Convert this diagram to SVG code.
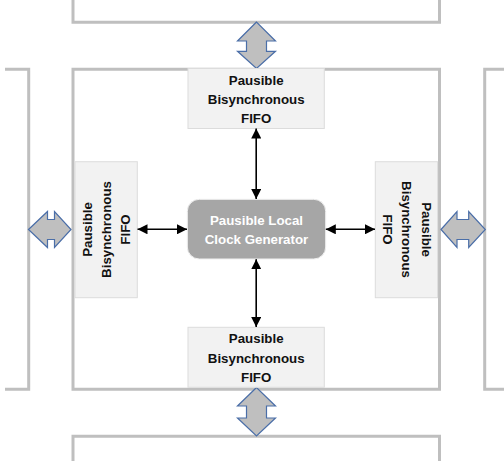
<svg xmlns="http://www.w3.org/2000/svg" width="504" height="461" viewBox="0 0 504 461">
<defs>
<style>
.frame{fill:none;stroke:#bfbfbf;stroke-width:3}
.fifo{fill:#f2f2f2;stroke:#dcdcdc;stroke-width:1}
.lbl{font-family:"Liberation Sans",Arial,sans-serif;font-weight:bold;font-size:13.3px;fill:#111;text-anchor:middle}
.wlbl{font-family:"Liberation Sans",Arial,sans-serif;font-weight:bold;font-size:13.3px;fill:#fff;text-anchor:middle}
.big{fill:#bfbfbf;stroke:#4a6ea8;stroke-width:1.2;stroke-linejoin:miter}
.conn{stroke:#000;stroke-width:1.6;fill:none;marker-start:url(#ah);marker-end:url(#ah)}
</style>
<marker id="ah" viewBox="0 0 10 10" refX="10" refY="5" markerWidth="10" markerHeight="10" markerUnits="userSpaceOnUse" orient="auto-start-reverse">
<path d="M0,0 L10,5 L0,10 z" fill="#000"/>
</marker>
</defs>
<g id="frames">
<path class="frame" d="M73,0 V22.2 H439.5 V0"/>
<path class="frame" d="M73,69.3 H439.5 V389.2 H73 Z"/>
<path class="frame" d="M5,69.3 H28.7 V389.2 H5"/>
<path class="frame" d="M504,69.3 H484.7 V389.2 H504"/>
<path class="frame" d="M73,461 V436.2 H439.5 V461"/>
</g>
<g id="interfaces">
<path class="big" d="M256.5,22 L237.5,41 H246.5 V51.3 H237.5 L256.5,68.5 L275.5,51.3 H266.5 V41 H275.5 Z"/>
<path class="big" d="M256.5,387.5 L237.5,406 H246.5 V418 H237.5 L256.5,436 L275.5,418 H266.5 V406 H275.5 Z"/>
<path class="big" d="M28.5,229.5 L47.5,211.5 V219.5 H54.5 V211.5 L71,229.5 L54.5,247.5 V239.5 H47.5 V247.5 Z"/>
<path class="big" d="M441,229.5 L457,211.5 V219.5 H468.7 V211.5 L485.3,229.5 L468.7,247.5 V239.5 H457 V247.5 Z"/>
</g>
<g id="fifo-top">
<rect class="fifo" x="188" y="68.5" width="136.3" height="60"/>
<text class="lbl" x="256.2" y="85">Pausible</text>
<text class="lbl" x="256.2" y="104">Bisynchronous</text>
<text class="lbl" x="256.2" y="123">FIFO</text>
</g>
<g id="fifo-bottom">
<rect class="fifo" x="188" y="327.3" width="136.3" height="60"/>
<text class="lbl" x="256.2" y="343.3">Pausible</text>
<text class="lbl" x="256.2" y="362.5">Bisynchronous</text>
<text class="lbl" x="256.2" y="381.7">FIFO</text>
</g>
<g id="fifo-left">
<rect class="fifo" x="75" y="161.7" width="62.3" height="136"/>
<text class="lbl" transform="translate(91.5,229.5) rotate(-90)">Pausible</text>
<text class="lbl" transform="translate(110.5,229.5) rotate(-90)">Bisynchronous</text>
<text class="lbl" transform="translate(130,229.5) rotate(-90)">FIFO</text>
</g>
<g id="fifo-right">
<rect class="fifo" x="375.3" y="161.7" width="62.3" height="136"/>
<text class="lbl" transform="translate(421.5,229.5) rotate(90)">Pausible</text>
<text class="lbl" transform="translate(402.3,229.5) rotate(90)">Bisynchronous</text>
<text class="lbl" transform="translate(383,229.5) rotate(90)">FIFO</text>
</g>
<g id="clock">
<rect x="187.3" y="199.3" width="138.4" height="59.7" rx="12" ry="12" fill="#a6a6a6" stroke="#f0f0f0" stroke-width="1"/>
<text class="wlbl" x="256.5" y="225">Pausible Local</text>
<text class="wlbl" x="256.5" y="244">Clock Generator</text>
</g>
<g id="connectors">
<line class="conn" x1="256.2" y1="128.5" x2="256.2" y2="199"/>
<line class="conn" x1="256.2" y1="259.2" x2="256.2" y2="327"/>
<line class="conn" x1="137.5" y1="229.3" x2="187" y2="229.3"/>
<line class="conn" x1="325.8" y1="229.3" x2="375" y2="229.3"/>
</g>
</svg>
